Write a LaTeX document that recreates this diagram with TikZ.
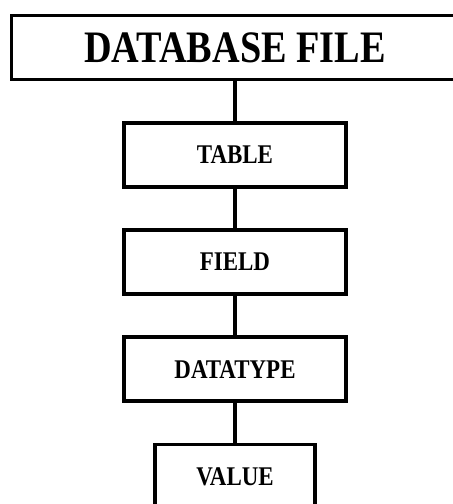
\documentclass[tikz,border=0pt]{standalone}
\usepackage{fontspec}
\setmainfont{Liberation Serif}[FakeStretch=0.85]
\usetikzlibrary{positioning}

\begin{document}
\begin{tikzpicture}[
    x=1pt, y=1pt,
    node distance=39.5pt,
    level/.style={rectangle, draw, line width=3.6pt, fill=white, minimum width=222pt, minimum height=64pt, font=\fontsize{27}{30}\selectfont\bfseries},
    link/.style={line width=3.6pt}
]
    \useasboundingbox (0,0) rectangle (453,-504);
    \clip (0,0) rectangle (453,-504);

    \node[level, minimum width=447pt, minimum height=64pt, font=\fontsize{45}{48}\selectfont\bfseries] (dbfile) at (235,-47.5) {DATABASE FILE};
    \node[level] (table) at (235,-155) {TABLE};
    \node[level, below=of table] (field) {FIELD};
    \node[level, below=of field] (datatype) {DATATYPE};
    \node[level, below=of datatype, minimum width=160pt] (value) {VALUE};

    \draw[link] (dbfile) -- (table);
    \draw[link] (table) -- (field);
    \draw[link] (field) -- (datatype);
    \draw[link] (datatype) -- (value);
\end{tikzpicture}
\end{document}
